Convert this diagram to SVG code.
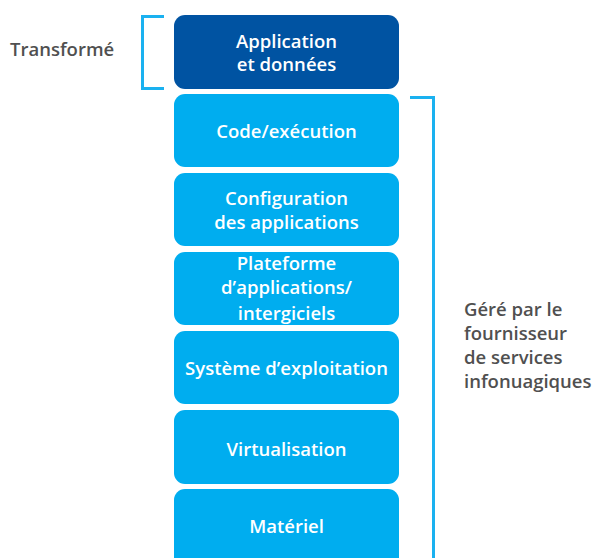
<svg xmlns="http://www.w3.org/2000/svg" width="597" height="558" viewBox="0 0 597 558">
<style>
.box{fill:#00adef}
.dark{fill:#0053a2}
.t{font-family:"Open Sans","Liberation Sans",sans-serif;font-weight:600;font-size:18.5px;fill:#ffffff;text-anchor:middle}
.g{font-family:"Open Sans","Liberation Sans",sans-serif;font-weight:600;font-size:18.5px;fill:#505050}
.br{fill:none;stroke:#1ab1f0;stroke-width:3}
</style>
<rect width="597" height="558" fill="#ffffff"/>
<g id="connectors">
<path class="br" d="M164,16.5 H142.5 V88.5 H164"/>
<path class="br" d="M410,97.5 H433.5 V558"/>
</g>
<g id="n1"><rect class="dark" x="174" y="15" width="225" height="74" rx="11"/><text class="t" x="286.5" y="48">Application</text><text class="t" x="286.5" y="71">et données</text></g>
<g id="n2"><rect class="box" x="174" y="94" width="225" height="73" rx="11"/><text class="t" x="286.5" y="138">Code/exécution</text></g>
<g id="n3"><rect class="box" x="174" y="173" width="225" height="73" rx="11"/><text class="t" x="286.5" y="205">Configuration</text><text class="t" x="286.5" y="229">des applications</text></g>
<g id="n4"><rect class="box" x="174" y="252" width="225" height="73" rx="11"/><text class="t" x="286.5" y="270">Plateforme</text><text class="t" x="286.5" y="294">d’applications/</text><text class="t" x="286.5" y="320">intergiciels</text></g>
<g id="n5"><rect class="box" x="174" y="331" width="225" height="73" rx="11"/><text class="t" x="286.5" y="375">Système d’exploitation</text></g>
<g id="n6"><rect class="box" x="174" y="410" width="225" height="74" rx="11"/><text class="t" x="286.5" y="456">Virtualisation</text></g>
<g id="n7"><rect class="box" x="174" y="489" width="225" height="80" rx="11"/><text class="t" x="286.5" y="533">Matériel</text></g>
<g id="labels">
<text class="g" x="10" y="56">Transformé</text>
<text class="g" x="464" y="316">Géré par le</text>
<text class="g" x="464" y="340">fournisseur</text>
<text class="g" x="464" y="364">de services</text>
<text class="g" x="464" y="388">infonuagiques</text>
</g>
</svg>
